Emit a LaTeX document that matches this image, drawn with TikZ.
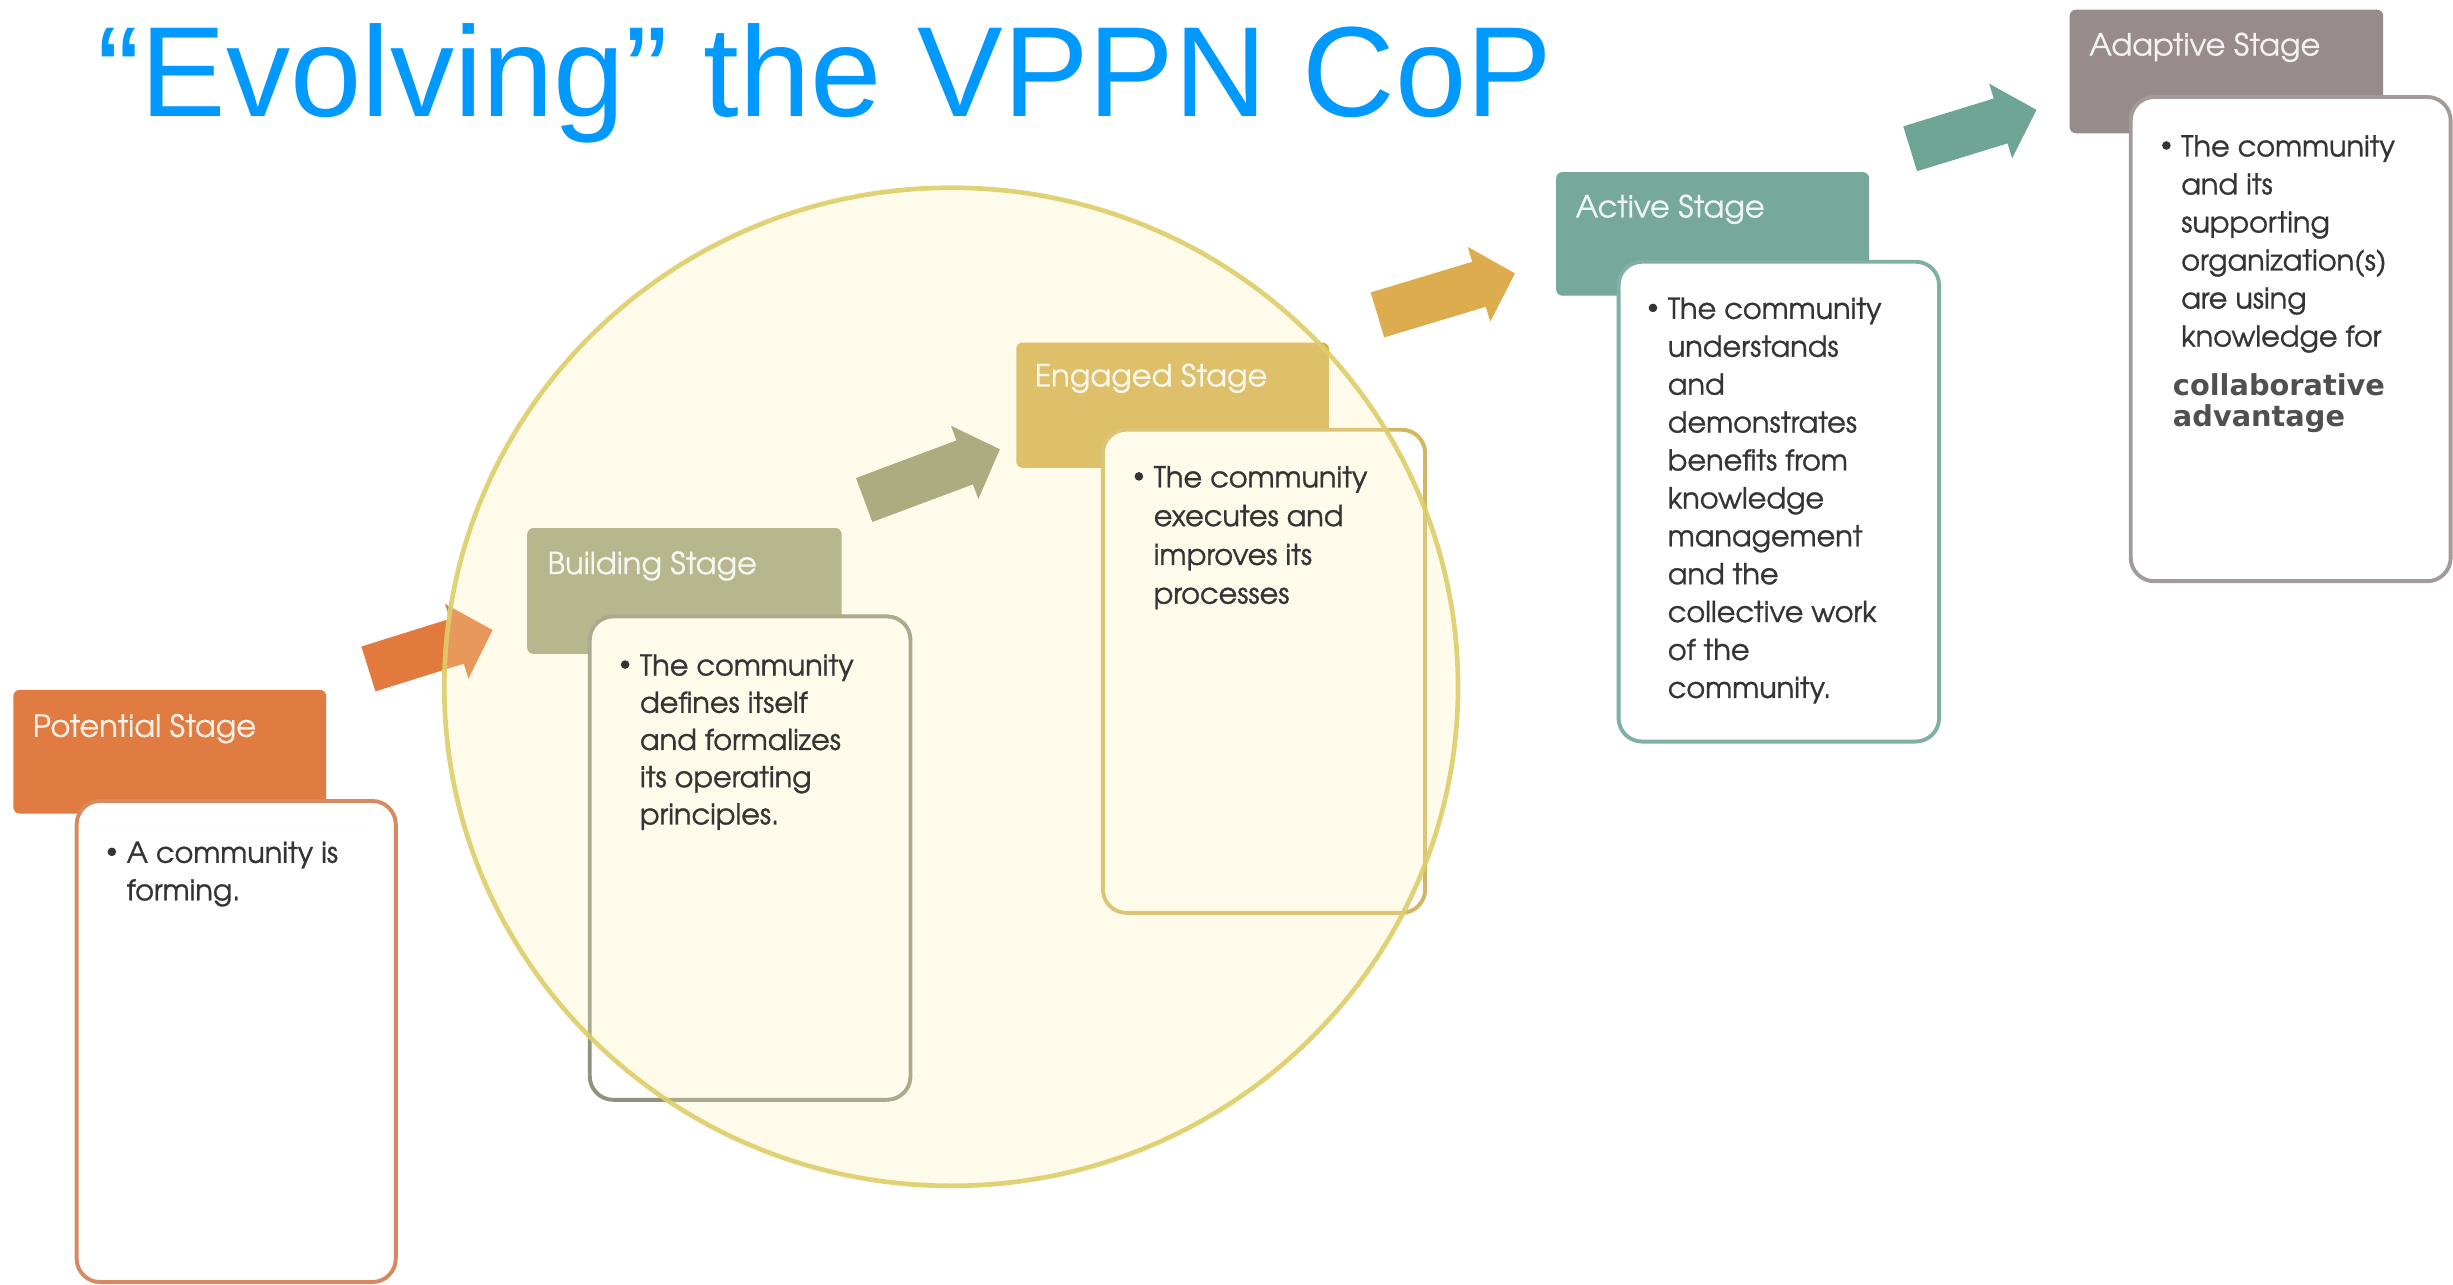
\documentclass[tikz,border=0pt]{standalone}
\usepackage{fontspec}
\usetikzlibrary{fit,shapes.geometric}
\newfontfamily\titlefont{Liberation Sans}
\newfontfamily\gothic[FakeBold=1.0]{TeX Gyre Adventor}
\newfontfamily\gothich[FakeBold=0.6]{TeX Gyre Adventor}
\newfontfamily\dvsans{DejaVu Sans}
\definecolor{titleblue}{RGB}{0,153,255}
\definecolor{potC}{RGB}{224,124,66}
\definecolor{potL}{RGB}{216,138,95}
\definecolor{potA}{RGB}{226,122,62}
\definecolor{bldC}{RGB}{158,163,127}
\definecolor{bldL}{RGB}{142,146,127}
\definecolor{bldA}{RGB}{144,150,112}
\definecolor{engC}{RGB}{211,175,82}
\definecolor{engL}{RGB}{210,182,100}
\definecolor{engA}{RGB}{221,172,78}
\definecolor{actC}{RGB}{118,168,155}
\definecolor{actL}{RGB}{128,176,163}
\definecolor{actA}{RGB}{110,165,148}
\definecolor{adpC}{RGB}{151,139,139}
\definecolor{adpL}{RGB}{163,154,154}
\definecolor{txt}{RGB}{52,52,52}
\definecolor{advtxt}{RGB}{80,80,80}
\definecolor{circF}{RGB}{255,243,179}
\definecolor{circD}{RGB}{222,205,105}
\newcommand\stagearrow[5]{%
  \begin{scope}[shift={(#2,#3)},rotate=#4]
    \fill[#1] (0,-15) -- ({#5-24},-15) -- ({#5-24},-25) -- (#5,0) -- ({#5-24},25) -- ({#5-24},15) -- (0,15) -- cycle;
  \end{scope}}
\begin{document}
\begin{tikzpicture}[x=0.4pt,y=-0.4pt,
  hdr/.style={inner sep=0pt, outer sep=0pt, rounded corners=1.6pt, draw=none},
  bodybox/.style={inner sep=0pt, outer sep=0pt, rounded corners=6pt, line width=1pt, fill=white},
  hdrtext/.style={inner sep=0pt, anchor=base west, text=white, text opacity=0.88, font=\gothich\fontsize{7.8}{9}\selectfont},
  bodytext/.style={inner sep=0pt, anchor=base west, text=txt, font=\gothic\fontsize{7.35}{9}\selectfont},
  bul/.style={circle, fill=txt, inner sep=0pt, minimum size=2.2pt},
]
\useasboundingbox (0,0) rectangle (1568,821);
\fill[white] (0,0) rectangle (1568,821);

% block arrows
\stagearrow{potA}{235.5}{427.6}{17.4}{83.2}
\stagearrow{bldA}{552.4}{319.6}{20.5}{92.6}
\stagearrow{engA}{880.5}{201.3}{16.8}{91.8}
\stagearrow{actA}{1221}{95.1}{17.1}{84.5}

% headers
\node[hdr, fill=potC, fit={(8.5,441) (208.5,520)}] (potH) {};
\node[hdr, fill=bldC, fit={(337,337.5) (538,418)}] (bldH) {};
\node[hdr, fill=engC, fit={(649.6,219) (849.5,299)}] (engH) {};
\node[hdr, fill=actC, fit={(994.7,110) (1194.8,189)}] (actH) {};
\node[hdr, fill=adpC, fit={(1323,6.2) (1523.4,85.2)}] (adpH) {};

% bodies
\node[bodybox, draw=potL, fit={(49,512) (253,819.5)}] (potB) {};
\node[bodybox, draw=bldL, fit={(377,394) (582,703)}] (bldB) {};
\node[bodybox, draw=engL, fit={(705,274.7) (911,583.5)}] (engB) {};
\node[bodybox, draw=actL, fit={(1034.6,167.3) (1239.5,474)}] (actB) {};
\node[bodybox, draw=adpL, fit={(1362,62) (1566.5,371.5)}] (adpB) {};

% circle overlay
\node[ellipse, inner sep=0pt, outer sep=0pt, minimum width=259.2pt, minimum height=255.2pt,
      fill=circF, fill opacity=0.25, draw=circD, draw opacity=0.9, line width=1.2pt] (circ) at (608,439) {};

% title
\node[inner sep=0pt, anchor=base west, text=titleblue, font=\titlefont\fontsize{32.8}{36}\selectfont] (title) at (62,74.6) {“Evolving” the VPPN CoP};

% header texts
\node[hdrtext] (potHT) at (20.5,471) {Potential Stage};
\node[hdrtext] (bldHT) at (349.5,367) {Building Stage};
\node[hdrtext] (engHT) at (661,247) {Engaged Stage};
\node[hdrtext] (actHT) at (1006.7,139) {Active Stage};
\node[hdrtext] (adpHT) at (1335,35.5) {Adaptive Stage};

% body texts
\node[bul] (potBul) at (71.5,544.5) {};
\foreach \t [count=\i from 0] in {{A community is},{forming.}}
  \node[bodytext] (potT\i) at (80.5,{551.5+24*\i}) {\t};

\node[bul] (bldBul) at (399.6,424.8) {};
\foreach \t [count=\i from 0] in {{The community},{defines itself},{and formalizes},{its operating},{principles.}}
  \node[bodytext] (bldT\i) at (408.6,{431.8+23.8*\i}) {\t};

\node[bul] (engBul) at (728,304.5) {};
\foreach \t [count=\i from 0] in {{The community},{executes and},{improves its},{processes}}
  \node[bodytext] (engT\i) at (737,{311.5+24.8*\i}) {\t};

\node[bul] (actBul) at (1056.6,196.8) {};
\foreach \t [count=\i from 0] in {{The community},{understands},{and},{demonstrates},{benefits from},{knowledge},{management},{and the},{collective work},{of the},{community.}}
  \node[bodytext] (actT\i) at (1065.6,{203.8+24.23*\i}) {\t};

\node[bul] (adpBul) at (1384.8,93) {};
\foreach \t [count=\i from 0] in {{The community},{and its},{supporting},{organization(s)},{are using},{knowledge for}}
  \node[bodytext] (adpT\i) at (1393.8,{100+24.3*\i}) {\t};
\node[inner sep=0pt, anchor=base west, text=advtxt, font=\dvsans\bfseries\fontsize{7.36}{9}\selectfont] (adpC1) at (1388.5,252.5) {collaborative};
\node[inner sep=0pt, anchor=base west, text=advtxt, font=\dvsans\bfseries\fontsize{7.36}{9}\selectfont] (adpC2) at (1388.5,272.7) {advantage};
\end{tikzpicture}
\end{document}
